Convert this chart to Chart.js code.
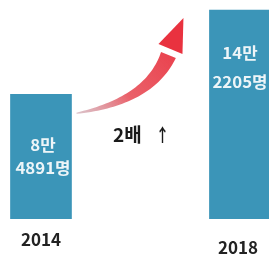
<!DOCTYPE html>
<html><head><meta charset="utf-8">
<script src="https://cdn.jsdelivr.net/npm/chart.js@4"></script>
<style>html,body{margin:0;padding:0;background:#fff;overflow:hidden}#wrap{width:269px;height:264px;position:relative}</style>
</head><body><div id="wrap"><canvas id="c"></canvas></div>
<script>
const categories = ["2014", "2018"];
const values = [84891, 142205];
const valueLabels = [["8만", "4891명"], ["14만", "2205명"]];
const changeLabel = ["2배", "↑"];

const FONT = '"Noto Sans CJK KR", "Noto Sans", sans-serif';

function squeezed(ctx, text, x, y, sx) {
  ctx.save();
  ctx.translate(x, y);
  ctx.scale(sx, 1);
  ctx.fillText(text, 0, 0);
  ctx.restore();
}

const textPlugin = {
  id: 'texts',
  afterDatasetsDraw(chart) {
    const ctx = chart.ctx;
    const meta = chart.getDatasetMeta(0);
    const b1 = meta.data[0], b2 = meta.data[1];
    ctx.save();
    ctx.fillStyle = '#eef5f8';
    ctx.textAlign = 'center';
    ctx.textBaseline = 'middle';
    ctx.font = 'bold 16px ' + FONT;
    meta.data.forEach((bar, i) => {
      const offs = i === 0 ? [51, 74] : [43, 72];
      valueLabels[i].forEach((t, j) => squeezed(ctx, t, bar.x + (i === 0 ? 2 : 0), bar.y + offs[j], 1.05));
    });
    ctx.fillStyle = '#222';
    ctx.font = 'bold 17px ' + FONT;
    const base = chart.scales.y.getPixelForValue(0);
    categories.forEach((c, i) => {
      const bar = meta.data[i];
      squeezed(ctx, c, bar.x - (i === 1 ? 2 : 0), base + (i === 0 ? 21 : 29), 1.0);
    });
    ctx.fillStyle = '#1a1a1a';
    const midX = (b1.x + b2.x) / 2;
    ctx.font = 'bold 19px ' + FONT;
    squeezed(ctx, changeLabel[0], midX - 13, b1.y + 41, 1.0);
    ctx.font = 'bold 18px ' + FONT;
    squeezed(ctx, changeLabel[1], midX + 22, b1.y + 41, 0.75);

    // red curved arrow
    const sx = b1.x + b1.width / 2 + 5, sy = b1.y + 19;
    const tipX = b2.x - b2.width / 2 - 26, tipY = b2.y + 8;
    const ex = tipX - 15, ey = tipY + 37;
    const cx = tipX - 34, cy = tipY + 83;
    const grad = ctx.createLinearGradient(sx, sy, tipX, tipY);
    grad.addColorStop(0, 'rgba(205,170,180,0.7)');
    grad.addColorStop(0.35, 'rgba(232,80,90,0.9)');
    grad.addColorStop(1, '#e9323f');
    const N = 40, left = [], right = [];
    for (let k = 0; k <= N; k++) {
      const t = k / N;
      const x = (1-t)*(1-t)*sx + 2*(1-t)*t*cx + t*t*ex;
      const y = (1-t)*(1-t)*sy + 2*(1-t)*t*cy + t*t*ey;
      const dx = 2*(1-t)*(cx-sx) + 2*t*(ex-cx);
      const dy = 2*(1-t)*(cy-sy) + 2*t*(ey-cy);
      const len = Math.hypot(dx, dy);
      const nx = -dy/len, ny = dx/len;
      const w = 0.6 + 7.4 * Math.pow(t, 0.9);
      left.push([x + nx*w, y + ny*w]);
      right.push([x - nx*w, y - ny*w]);
    }
    ctx.fillStyle = grad;
    ctx.beginPath();
    ctx.moveTo(left[0][0], left[0][1]);
    left.forEach(p => ctx.lineTo(p[0], p[1]));
    for (let k = right.length - 1; k >= 0; k--) ctx.lineTo(right[k][0], right[k][1]);
    ctx.closePath();
    ctx.fill();
    const hx = tipX - 13, hy = tipY + 31;
    ctx.fillStyle = '#e9323f';
    ctx.beginPath();
    ctx.moveTo(tipX, tipY);
    ctx.lineTo(hx - 12, hy - 5);
    ctx.lineTo(hx, hy);
    ctx.lineTo(hx + 12, hy + 5);
    ctx.closePath();
    ctx.fill();
    ctx.restore();
  }
};

new Chart(document.getElementById('c'), {
  type: 'bar',
  data: {
    datasets: [{
      data: values.map((v, i) => ({ x: i, y: v })),
      backgroundColor: '#3b95b8',
      borderWidth: 0,
      barThickness: 61
    }]
  },
  options: {
    responsive: true,
    maintainAspectRatio: false,
    animation: false,
    layout: { padding: { left: 0, right: 0, top: 0, bottom: 45 } },
    plugins: { legend: { display: false }, tooltip: { enabled: false } },
    scales: {
      x: { type: 'linear', display: false, offset: false, min: -0.206, max: 1.146 },
      y: { display: false, min: 0, max: 149000 }
    }
  },
  plugins: [textPlugin]
});
</script>
</body></html>
